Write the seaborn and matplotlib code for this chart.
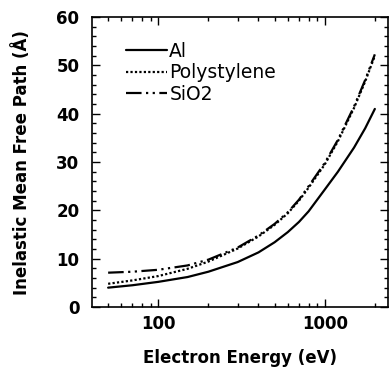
import numpy as np
import pandas as pd
import seaborn as sns
import matplotlib.pyplot as plt
from matplotlib.ticker import FixedLocator, MultipleLocator, NullFormatter

energy = [50, 70, 100, 150, 200, 300, 400, 500, 600, 700, 800, 1000, 1200, 1500, 1750, 2000]
al = [4.0, 4.5, 5.2, 6.2, 7.3, 9.3, 11.3, 13.4, 15.5, 17.6, 19.8, 24.3, 28.0, 33.0, 37.0, 41.0]
polystylene = [4.8, 5.5, 6.4, 7.9, 9.4, 12.1, 14.6, 17.0, 19.4, 22.0, 24.7, 29.5, 34.3, 41.2, 46.7, 52.0]
sio2 = [7.1, 7.3, 7.7, 8.6, 9.8, 12.3, 14.8, 17.2, 19.6, 22.2, 25.0, 29.8, 34.6, 41.5, 47.0, 52.3]

sns.set_style("ticks", {'text.color': 'black', 'axes.labelcolor': 'black',
                        'xtick.color': 'black', 'ytick.color': 'black',
                        'axes.edgecolor': 'black'})
plt.rcParams['font.family'] = ['DejaVu Sans']

fig = plt.figure(figsize=(3.89, 3.73), dpi=100)
ax = fig.add_axes([0.2365, 0.177, 0.761, 0.777])

df = pd.DataFrame({'E': energy, 'Al': al, 'Polystylene': polystylene, 'SiO2': sio2})
sns.lineplot(data=df, x='E', y='Al', ax=ax, color='black', lw=1.6, label='Al')
sns.lineplot(data=df, x='E', y='Polystylene', ax=ax, color='black', lw=1.6,
             linestyle=(0, (1, 1)), label='Polystylene')
sns.lineplot(data=df, x='E', y='SiO2', ax=ax, color='black', lw=1.6,
             linestyle=(0, (7, 2, 1, 2, 1, 2)), label='SiO2')

ax.set_xscale('log')
ax.set_xlim(40, 2400)
ax.set_ylim(0, 60)
ax.xaxis.set_major_locator(FixedLocator([100, 1000]))
ax.xaxis.set_minor_locator(FixedLocator([50, 60, 70, 80, 90, 200, 300, 400, 500, 600, 700, 800, 900, 2000]))
ax.xaxis.set_minor_formatter(NullFormatter())
ax.set_xticklabels(['100', '1000'])
ax.yaxis.set_major_locator(MultipleLocator(10))
ax.yaxis.set_minor_locator(MultipleLocator(2))
ax.tick_params(which='both', direction='in', top=True, right=True, width=1.0)
ax.tick_params(which='major', length=6, labelsize=12)
ax.tick_params(which='minor', length=3)
ax.tick_params(axis='x', which='major', pad=6)
ax.tick_params(axis='y', which='major', pad=9)
for lab in ax.get_xticklabels() + ax.get_yticklabels():
    lab.set_fontweight('bold')
for s in ax.spines.values():
    s.set_linewidth(1.2)

ax.set_xlabel('Electron Energy (eV)', fontsize=12, fontweight='bold', labelpad=11)
ax.set_ylabel('Inelastic Mean Free Path (Å)', fontsize=12, fontweight='bold', labelpad=18)

ax.legend(loc='upper left', bbox_to_anchor=(0.09, 0.94), frameon=False, fontsize=13.5,
          handlelength=2.2, handletextpad=0.1, labelspacing=0.12, borderaxespad=0)

fig.savefig('out.png', dpi=100)
